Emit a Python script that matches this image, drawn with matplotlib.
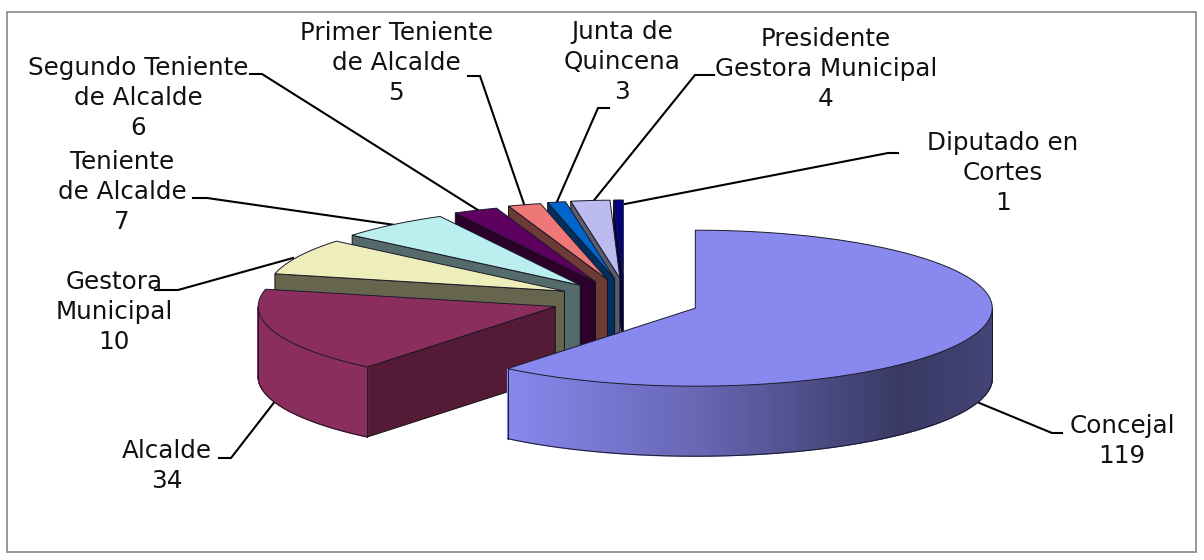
import numpy as np
import matplotlib
matplotlib.use("Agg")
import matplotlib.pyplot as plt
from matplotlib.patches import Polygon, Rectangle

# --- data ---
categories = ["Concejal", "Alcalde", "Gestora\nMunicipal", "Teniente\nde Alcalde",
              "Segundo Teniente\nde Alcalde", "Primer Teniente\nde Alcalde",
              "Junta de\nQuincena", "Presidente\nGestora Municipal", "Diputado en\nCortes"]
values = [119, 34, 10, 7, 6, 5, 3, 4, 1]

# --- style ---
top_colors = ["#8888EE", "#8B2D5D", "#EEEEBB", "#BBEEEE", "#5F0060", "#EE7777", "#0066CC", "#BBBBEE", "#000080"]
side_colors = ["#3A3A66", "#551A36", "#66664F", "#556B6B", "#2B002B", "#6E3A36", "#00305E", "#5C5C70", "#00004D"]
label_pos = [(1122, 441), (167, 466), (114, 312), (122, 192), (138, 98), (396, 63), (622, 62), (826, 69), (1003, 173)]
leaders = [[(1062, 433), (1052, 433), (977, 402)], [(219, 458), (231, 458), (276, 400)],
           [(155, 290), (178, 290), (293, 258)], [(193, 198), (207, 198), (395, 225)],
           [(250, 74), (262, 74), (481, 212)], [(468, 76), (480, 76), (525, 207)],
           [(609, 108), (598, 108), (556, 204)], [(714, 75), (695, 75), (591, 204)],
           [(898, 153), (888, 153), (625, 204)]]
CX, CY = 624, 305          # pie centre before explosion
RX, RY, DEPTH = 297, 78, 70

# view distortion of the 3-D projection: true angle -> drawn angle
view_in = [0, 180, 226.9, 291.6, 310.6, 323.9, 335.3, 344.8, 350.5, 360]
view_out = [0, 180, 219.4, 283.0, 310.0, 332.0, 340.6, 347.0, 350.5, 360]


def drawn(theta):
    return np.interp(theta, view_in, view_out)


def apex(mid):
    u, v = np.sin(np.radians(mid)), -np.cos(np.radians(mid))
    ex = 74 + 4 * u - 33 * max(0.0, -v) ** 5
    ey = 27 if v < 0 else 8
    return CX + ex * u, CY + ey * v


def rim(a, b, n=80):
    t = np.radians(np.linspace(a, b, n))
    return np.sin(t), -np.cos(t)


def shade(u):
    return np.interp(u, [-0.64, 0.02, 0.69, 1.0], [1.0, 0.75, 0.42, 0.5])


fig = plt.figure(figsize=(12.04, 5.60), dpi=100)
ax = fig.add_axes([0, 0, 1, 1])
ax.set_xlim(0, 1204)
ax.set_ylim(560, 0)
ax.axis("off")
ax.add_patch(Rectangle((7, 11.5), 1189, 540.5, fc="white", ec="#888888", lw=1.2, zorder=0))

for pts in leaders:
    xs, ys = zip(*pts)
    ax.plot(xs, ys, color="black", lw=1.5, zorder=1, solid_joinstyle="miter")

total = sum(values)
edges = np.concatenate([[0], np.cumsum(values)]) * 360.0 / total
LINE = "#1a1a2a"
z = 2
for i in list(range(1, len(values)))[::-1] + [0]:
    a0, a1 = edges[i], edges[i + 1]
    ax0, ay0 = apex((a0 + a1) / 2)
    d0, d1 = float(drawn(a0)), float(drawn(min(a1, 360)))
    rgb = np.array(matplotlib.colors.to_rgb(top_colors[i]))
    u, v = rim(d0, d1)
    px, py = ax0 + RX * u, ay0 + RY * v
    # radial side wall
    if a0 > 180:
        ax.add_patch(Polygon([(ax0, ay0), (px[0], py[0]), (px[0], py[0] + DEPTH), (ax0, ay0 + DEPTH)],
                             fc=side_colors[i], ec="#111111", lw=0.7, zorder=z))
    # outer wall
    lo, hi = max(d0, 90), min(d1, 270)
    if hi > lo:
        ua, va = rim(lo, hi, 120)
        qx, qy = ax0 + RX * ua, ay0 + RY * va
        for k in range(len(qx) - 1):
            c = rgb * shade((ua[k] + ua[k + 1]) / 2)
            ax.add_patch(Polygon([(qx[k], qy[k]), (qx[k + 1], qy[k + 1]),
                                  (qx[k + 1], qy[k + 1] + DEPTH), (qx[k], qy[k] + DEPTH)],
                                 fc=c, ec=c, lw=1.0, zorder=z))
        ax.plot(qx, qy + DEPTH, color=LINE, lw=0.7, zorder=z)
        ax.plot([qx[0], qx[0]], [qy[0], qy[0] + DEPTH], color=LINE, lw=0.7, zorder=z)
        ax.plot([qx[-1], qx[-1]], [qy[-1], qy[-1] + DEPTH], color=LINE, lw=0.7, zorder=z)
    # top face
    ax.add_patch(Polygon(np.column_stack([np.r_[ax0, px], np.r_[ay0, py]]),
                         fc=top_colors[i], ec=LINE, lw=0.7, zorder=z + 0.5, joinstyle="miter"))
    z += 1

for name, val, (lx, ly) in zip(categories, values, label_pos):
    ax.text(lx, ly, f"{name}\n{val}", ha="center", va="center", fontsize=17.7,
            color="#111111", linespacing=1.33, zorder=30, family="DejaVu Sans")

fig.savefig("out.png", dpi=100, facecolor="white")
